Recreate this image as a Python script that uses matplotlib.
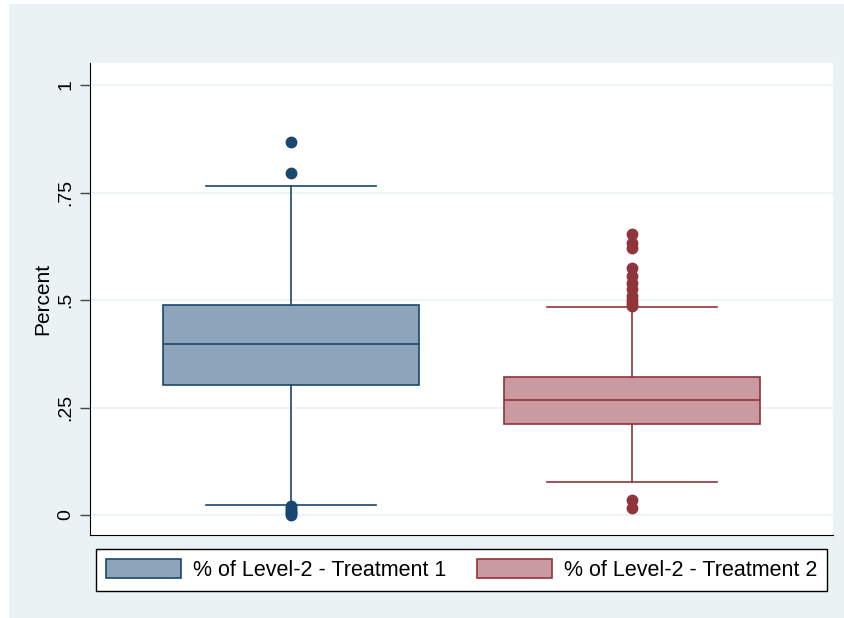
import matplotlib.pyplot as plt
from matplotlib.patches import Rectangle, Patch

plt.rcParams['font.family'] = ['Liberation Sans', 'DejaVu Sans']

# summary statistics for each treatment (share of level-2)
labels = ["% of Level-2 - Treatment 1", "% of Level-2 - Treatment 2"]
q1 = [0.302, 0.212]
med = [0.398, 0.267]
q3 = [0.488, 0.321]
whislo = [0.024, 0.077]
whishi = [0.765, 0.484]
fliers_t1 = [0.867, 0.795, 0.020, 0.016, 0.012, 0.008, 0.004, 0.001]
fliers_t2 = [0.653, 0.633, 0.621, 0.574, 0.556, 0.540, 0.525, 0.510,
             0.500, 0.492, 0.486, 0.035, 0.016]

fills = ['#8DA5BA', '#C99A9F']
edges = ['#1A476F', '#90353B']
bg = '#EAF2F3'

stats = []
for i, fl in enumerate([fliers_t1, fliers_t2]):
    stats.append(dict(q1=q1[i], med=med[i], q3=q3[i],
                      whislo=whislo[i], whishi=whishi[i], fliers=fl))

fig = plt.figure(figsize=(8.44, 6.18), dpi=100, facecolor='white')
outer = Rectangle((9 / 844, 0), 1, 614 / 618, transform=fig.transFigure,
                  facecolor=bg, edgecolor='none', zorder=-5)
fig.add_artist(outer)
ax = fig.add_axes([90 / 844, 1 - 535 / 618, 743 / 844, 472 / 618])
ax.set_facecolor('white')

for i, s in enumerate(stats):
    c = edges[i]
    ax.bxp([s], positions=[i + 1], widths=0.75, patch_artist=True,
           boxprops=dict(facecolor=fills[i], edgecolor=c, linewidth=1.2),
           medianprops=dict(color=c, linewidth=1.2),
           whiskerprops=dict(color=c, linewidth=1.2),
           capprops=dict(color=c, linewidth=1.2),
           capwidths=0.5,
           flierprops=dict(marker='o', markerfacecolor=c, markeredgecolor=c,
                           markersize=7.5))

ax.set_xlim(0.411, 2.589)
ax.set_ylim(-0.0465, 1.0512)
ax.set_xticks([])
ax.set_yticks([0, 0.25, 0.5, 0.75, 1])
ax.set_yticklabels(['0', '.25', '.5', '.75', '1'], rotation=90, va='center')
ax.tick_params(axis='y', length=7, width=1, color='#444444', labelsize=14, pad=4)
ax.yaxis.grid(True, color=bg, linewidth=1.2)
ax.set_axisbelow(True)
for side in ['top', 'right']:
    ax.spines[side].set_visible(False)
ax.spines['left'].set_color('black')
ax.spines['bottom'].set_color('black')
ax.set_ylabel('Percent', fontsize=15, labelpad=4)

handles = [Patch(facecolor=fills[i], edgecolor=edges[i], linewidth=1.2) for i in range(2)]
fig.legend(handles, labels, loc='center', ncol=2,
           bbox_to_anchor=(461.5 / 844, 1 - 570 / 618),
           fontsize=15.5, frameon=True, fancybox=False, edgecolor='black',
           framealpha=1, handlelength=3.5, handleheight=1.0, columnspacing=1.4,
           handletextpad=0.55, borderpad=0.45)

fig.savefig('out.png', dpi=100, facecolor='white')
